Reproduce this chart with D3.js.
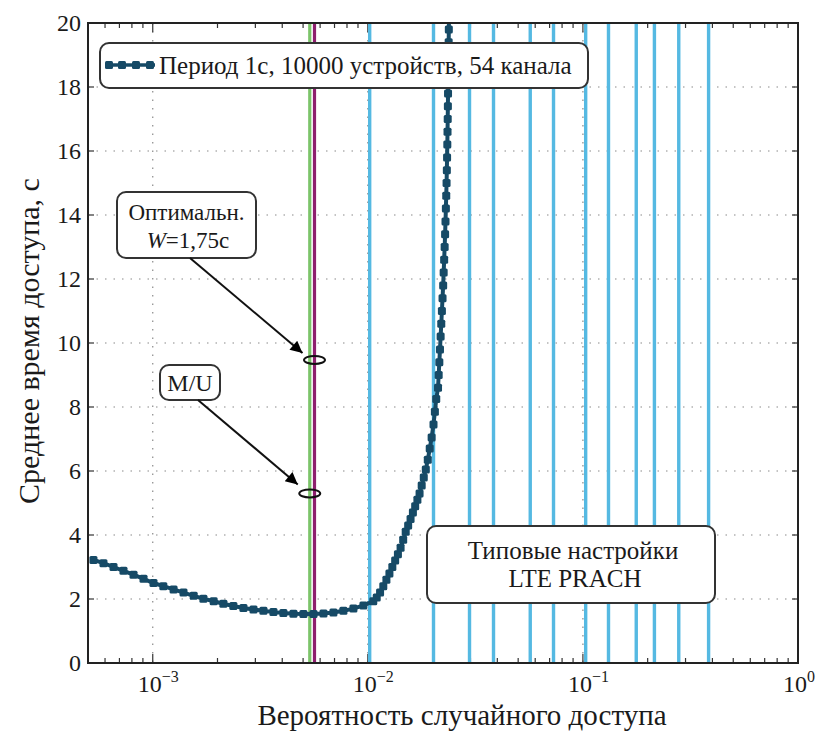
<!DOCTYPE html>
<html><head><meta charset="utf-8">
<script src="https://cdn.jsdelivr.net/npm/d3@7"></script>
<style>body{margin:0;background:#fff}svg{display:block}</style>
</head><body>
<svg id="c" width="823" height="731"></svg>
<script>
// ---- data ----
const probability = [5.3e-4,5.9e-4,6.57e-4,7.31e-4,8.14e-4,9.06e-4,1.008e-3,1.12e-3,1.25e-3,1.39e-3,1.55e-3,1.72e-3,1.92e-3,2.13e-3,2.37e-3,2.64e-3,2.94e-3,3.27e-3,3.64e-3,4.05e-3,4.51e-3,5.02e-3,5.59e-3,6.22e-3,6.92e-3,7.7e-3,8.57e-3,9.54e-3,1.06e-2,
 0.0110,0.0114,0.0118,0.0122,0.0126,0.0130,0.0134,0.0138,0.0142,0.0146,0.0150,0.0154,0.0158,0.0162,0.0166,0.0170,0.0174,0.0178,0.0182,0.0186,0.0190,0.0194,0.0198,0.0202,0.0205,0.0208,
 0.0212,0.02135,0.0215,0.02165,0.0218,0.02195,0.0221,0.02225,0.0224,0.02252,0.02264,0.02276,0.02287,0.02297,0.02306,0.02315,0.02323,0.02330,0.02336,0.02342,0.02347,0.02352,0.02356,0.02360,0.02364,0.02368,0.02372,0.02376,0.02380,0.02384];
const accessTime = [3.22,3.12,3.0,2.88,2.76,2.63,2.50,2.40,2.30,2.20,2.10,2.01,1.93,1.85,1.78,1.72,1.67,1.63,1.59,1.56,1.54,1.53,1.53,1.55,1.58,1.63,1.70,1.80,1.93,
 2.05,2.2,2.4,2.6,2.8,3.0,3.2,3.4,3.6,3.85,4.1,4.3,4.5,4.7,4.9,5.1,5.3,5.55,5.8,6.05,6.35,6.7,7.05,7.45,7.85,8.25,
 8.6,9.0,9.4,9.8,10.2,10.6,11.0,11.4,11.8,12.2,12.6,13.0,13.4,13.8,14.2,14.6,15.0,15.4,15.8,16.2,16.6,17.0,17.4,17.8,18.2,18.6,19.0,19.4,19.8,20.2];
const lteSettings = [0.0102,0.0202,0.0297,0.0384,0.0569,0.073,0.103,0.1315,0.177,0.215,0.279,0.384];
const muValue = 0.00537;       // M/U
const optimalValue = 0.00565;  // optimal
const muTime = 5.3;
const optimalTime = 9.47;
const yTicks = [0,2,4,6,8,10,12,14,16,18,20];
const xDecades = [-3,-2,-1,0];
const seriesLabel = "Период 1с, 10000 устройств, 54 канала";
const xTitle = "Вероятность случайного доступа";
const yTitle = "Среднее время доступа, с";

// ---- layout ----
const L=88,R=798,T=23,B=663;
const svg=d3.select("#c");
const x=d3.scaleLog().domain([5e-4,1]).range([L,R]);
const y=d3.scaleLinear().domain([0,20]).range([B,T]);
const serif="'Liberation Serif','DejaVu Serif',serif";
const curveColor="#164a66", cyan="#55b9e2", green="#7cc46a", purple="#8e1f6e", ink="#1a1a1a";

const defs=svg.append("defs");
defs.append("clipPath").attr("id","clip").append("rect").attr("x",L).attr("y",T).attr("width",R-L).attr("height",B-T);
defs.append("marker").attr("id","arr").attr("viewBox","0 0 10 10").attr("refX",10).attr("refY",5)
 .attr("markerWidth",16).attr("markerHeight",12).attr("markerUnits","userSpaceOnUse").attr("orient","auto")
 .append("path").attr("d","M0,0L10,5L0,10Z").attr("fill","#000");

// grid
const grid=svg.append("g").attr("stroke","#8a8a8a").attr("stroke-width",1.2).attr("stroke-dasharray","1.5,7");
grid.selectAll("line.h").data(yTicks.filter(d=>d>0&&d<20)).join("line")
 .attr("x1",L).attr("x2",R).attr("y1",d=>y(d)).attr("y2",d=>y(d));
grid.selectAll("line.v").data(xDecades.filter(d=>d<0)).join("line")
 .attr("y1",T).attr("y2",B).attr("x1",d=>x(Math.pow(10,d))).attr("x2",d=>x(Math.pow(10,d)));

// ticks
const tk=svg.append("g").attr("stroke","#333").attr("stroke-width",1.2);
const minor=[];
for(const d of [-4,-3,-2,-1]) for(let k=2;k<=9;k++){const v=k*Math.pow(10,d); if(v>=5e-4&&v<1) minor.push(v);}
minor.forEach(v=>{tk.append("line").attr("x1",x(v)).attr("x2",x(v)).attr("y1",B).attr("y2",B-5);
 tk.append("line").attr("x1",x(v)).attr("x2",x(v)).attr("y1",T).attr("y2",T+5);});
xDecades.forEach(d=>{const v=x(Math.pow(10,d));tk.append("line").attr("x1",v).attr("x2",v).attr("y1",B).attr("y2",B-9);
 tk.append("line").attr("x1",v).attr("x2",v).attr("y1",T).attr("y2",T+9);});
yTicks.forEach(d=>{tk.append("line").attr("x1",L).attr("x2",L+6).attr("y1",y(d)).attr("y2",y(d));
 tk.append("line").attr("x1",R).attr("x2",R-6).attr("y1",y(d)).attr("y2",y(d));});

// vertical setting lines
const vg=svg.append("g").attr("clip-path","url(#clip)");
vg.selectAll("line.c").data(lteSettings).join("line").attr("x1",d=>x(d)).attr("x2",d=>x(d)).attr("y1",T).attr("y2",B)
 .attr("stroke",cyan).attr("stroke-width",3.4);
vg.append("line").attr("x1",x(muValue)).attr("x2",x(muValue)).attr("y1",T).attr("y2",B).attr("stroke",green).attr("stroke-width",3.2);
vg.append("line").attr("x1",x(optimalValue)).attr("x2",x(optimalValue)).attr("y1",T).attr("y2",B).attr("stroke",purple).attr("stroke-width",3.2);

// curve
const pts=probability.map((p,i)=>[p,accessTime[i]]);
const cg=svg.append("g").attr("clip-path","url(#clip)");
cg.append("path").datum(pts).attr("d",d3.line().x(d=>x(d[0])).y(d=>y(d[1])))
 .attr("fill","none").attr("stroke",curveColor).attr("stroke-width",4);
cg.selectAll("rect").data(pts).join("rect").attr("x",d=>x(d[0])-4).attr("y",d=>y(d[1])-4)
 .attr("width",8).attr("height",8).attr("rx",1.5).attr("fill",curveColor);

// frame
svg.append("rect").attr("x",L).attr("y",T).attr("width",R-L).attr("height",B-T).attr("fill","none").attr("stroke","#222").attr("stroke-width",2);

// axis labels
const yl=svg.append("g").attr("font-family",serif).attr("font-size",24).attr("fill",ink).attr("text-anchor","end");
yl.selectAll("text").data(yTicks).join("text").attr("x",L-7).attr("y",d=>y(d)+8).text(d=>d);
const xl=svg.append("g").attr("font-family",serif).attr("fill",ink);
xDecades.forEach(d=>{
 const t=xl.append("text").attr("x",x(Math.pow(10,d))-15).attr("y",692).attr("font-size",24);
 t.append("tspan").text("10");
 t.append("tspan").attr("dy",-10).attr("font-size",16).text(d===0?"0":"−"+(-d));
});
svg.append("text").attr("x",462).attr("y",725).attr("text-anchor","middle").attr("font-family",serif).attr("font-size",29).attr("fill",ink).text(xTitle);
svg.append("text").attr("transform",`translate(39,${341}) rotate(-90)`).attr("text-anchor","middle").attr("font-family",serif).attr("font-size",30).attr("fill",ink).text(yTitle);

// legend
const lg=svg.append("g");
lg.append("rect").attr("x",100).attr("y",43).attr("width",488).attr("height",45).attr("rx",9).attr("fill","#fff").attr("stroke","#333").attr("stroke-width",2);
lg.append("line").attr("x1",107).attr("x2",155).attr("y1",65).attr("y2",65).attr("stroke",curveColor).attr("stroke-width",3.5);
[109,122,136,150].forEach(px=>lg.append("rect").attr("x",px-4).attr("y",61).attr("width",8).attr("height",8).attr("rx",1.5).attr("fill",curveColor));
lg.append("text").attr("x",159).attr("y",74).attr("font-family",serif).attr("font-size",25).attr("fill",ink).text(seriesLabel);

// annotation boxes
function box(x0,y0,w,h){svg.append("rect").attr("x",x0).attr("y",y0).attr("width",w).attr("height",h).attr("rx",9).attr("fill","#fff").attr("stroke","#333").attr("stroke-width",2);}
box(117,192,139,66);
const t1=svg.append("text").attr("font-family",serif).attr("font-size",23).attr("fill",ink).attr("text-anchor","middle");
t1.append("tspan").attr("x",186.5).attr("y",220).text("Оптимальн.");
const t2=svg.append("text").attr("font-family",serif).attr("font-size",23).attr("fill",ink).attr("text-anchor","middle").attr("x",188).attr("y",248);
t2.append("tspan").attr("font-style","italic").text("W");
t2.append("tspan").text("=1,75с");
box(160,365,60,35);
svg.append("text").attr("x",190).attr("y",391).attr("font-family",serif).attr("font-size",24).attr("fill",ink).attr("text-anchor","middle").text("M/U");
box(427,526,288,77);
const t3=svg.append("text").attr("font-family",serif).attr("font-size",25).attr("fill",ink).attr("text-anchor","middle");
t3.append("tspan").attr("x",573).attr("y",559).text("Типовые настройки");
t3.append("tspan").attr("x",575).attr("y",587).text("LTE PRACH");

// ellipses and arrows
[[optimalValue,optimalTime],[muValue,muTime]].forEach(d=>{
 svg.append("ellipse").attr("cx",x(d[0])).attr("cy",y(d[1])).attr("rx",10.5).attr("ry",4).attr("fill","none").attr("stroke","#111").attr("stroke-width",2);
});
svg.append("line").attr("x1",190).attr("y1",258).attr("x2",x(optimalValue)-12).attr("y2",y(optimalTime)-7).attr("stroke","#111").attr("stroke-width",2).attr("marker-end","url(#arr)");
svg.append("line").attr("x1",198).attr("y1",400).attr("x2",x(muValue)-12).attr("y2",y(muTime)-9).attr("stroke","#111").attr("stroke-width",2).attr("marker-end","url(#arr)");
</script>
</body></html>
